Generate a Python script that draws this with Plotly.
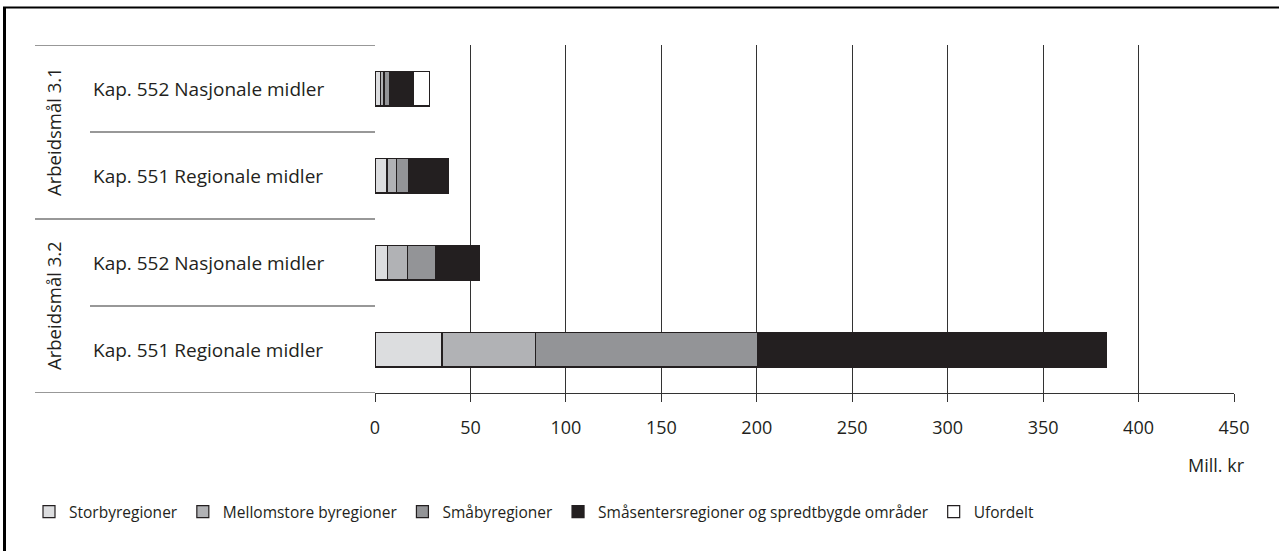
import plotly.graph_objects as go

# ---- data ----
groups = ["Arbeidsmål 3.1", "Arbeidsmål 3.2"]
rows = ["Kap. 552 Nasjonale midler", "Kap. 551 Regionale midler",
        "Kap. 552 Nasjonale midler", "Kap. 551 Regionale midler"]
series_names = ["Storbyregioner", "Mellomstore byregioner", "Småbyregioner",
                "Småsentersregioner og spredtbygde områder", "Ufordelt"]
storby = [2.8, 6.3, 6.6, 35.1]
mellomstore = [1.9, 4.9, 10.4, 49.1]
smaaby = [3.0, 6.5, 14.6, 116.1]
smaasenter = [12.2, 20.9, 23.1, 183.0]
ufordelt = [8.8, 0, 0, 0]
tick_values = [0, 50, 100, 150, 200, 250, 300, 350, 400, 450]
x_unit = "Mill. kr"

series_values = [storby, mellomstore, smaaby, smaasenter, ufordelt]
colors = ["#dcdddf", "#b1b2b5", "#939497", "#231f20", "#ffffff"]

# ---- layout geometry ----
W, H = 1279, 551
ML, MR, MT, MB = 375, 45, 45, 158
PW = W - ML - MR
PH = H - MT - MB


def px(xp):
    return (xp - ML) / PW


def py(yp):
    return (H - MB - yp) / PH


TXT = "#231f20"
LINE = "#333333"
FONT = "Open Sans"
ypos = list(range(len(rows)))

fig = go.Figure()
for name, vals, col in zip(series_names, series_values, colors):
    fig.add_trace(go.Bar(
        y=ypos, x=vals, name=name, orientation="h", width=0.4,
        marker=dict(color=col, line=dict(color=TXT, width=1.2)),
    ))

shapes = []
# table lines on the left (row boundaries)
for i in range(len(rows) + 1):
    yb = i - 0.5
    long_line = (i % 2 == 0)
    x0 = px(35) if long_line else px(90)
    shapes.append(dict(type="line", xref="paper", yref="y", x0=x0, x1=0,
                       y0=yb, y1=yb, line=dict(color=LINE, width=1.2)))
# outer frame (left and top)
shapes.append(dict(type="line", xref="paper", yref="paper", x0=px(4.5), x1=px(4.5),
                   y0=py(7), y1=py(551), line=dict(color="#000000", width=3)))
shapes.append(dict(type="line", xref="paper", yref="paper", x0=px(3), x1=px(1279),
                   y0=py(7.5), y1=py(7.5), line=dict(color="#000000", width=2)))

annotations = []
for i, r in enumerate(rows):
    annotations.append(dict(text=r, xref="paper", yref="y", x=px(91), y=i,
                            xanchor="left", yanchor="middle", showarrow=False,
                            font=dict(family=FONT, size=19, color=TXT)))
for g_i, g in enumerate(groups):
    annotations.append(dict(text=g, xref="paper", yref="y", x=px(53), y=g_i * 2 + 0.5,
                            xanchor="center", yanchor="middle", textangle=-90,
                            showarrow=False,
                            font=dict(family=FONT, size=18.5, color=TXT)))
annotations.append(dict(text=x_unit, xref="paper", yref="paper", x=px(1247), y=py(465),
                        xanchor="right", yanchor="middle", showarrow=False,
                        font=dict(family=FONT, size=18, color=TXT)))

fig.update_layout(
    width=W, height=H,
    margin=dict(l=ML, r=MR, t=MT, b=MB),
    paper_bgcolor="white", plot_bgcolor="white",
    barmode="stack",
    showlegend=True,
    legend=dict(orientation="h", x=px(29), xanchor="left", y=py(512), yanchor="middle",
                font=dict(family=FONT, size=15.5, color=TXT), traceorder="normal",
                itemclick=False),
    xaxis=dict(range=[0, 450], tickvals=tick_values, showgrid=True,
               gridcolor=LINE, gridwidth=1, zeroline=False,
               showline=True, linecolor=LINE, linewidth=1.2,
               ticks="outside", ticklen=8, tickcolor=LINE, tickwidth=1,
               ticklabelstandoff=10,
               tickfont=dict(family=FONT, size=18, color=TXT), fixedrange=True),
    yaxis=dict(range=[3.5, -0.5], showticklabels=False, showgrid=False,
               zeroline=False, showline=False, ticks="", fixedrange=True),
    shapes=shapes,
    annotations=annotations,
    font=dict(family=FONT, color=TXT),
)

fig.write_html(
    "out.html",
    config={"displayModeBar": False, "staticPlot": True},
    post_script=("document.body.style.margin='0';document.body.style.overflow='hidden';"
                 "document.documentElement.style.overflow='hidden';"),
)
